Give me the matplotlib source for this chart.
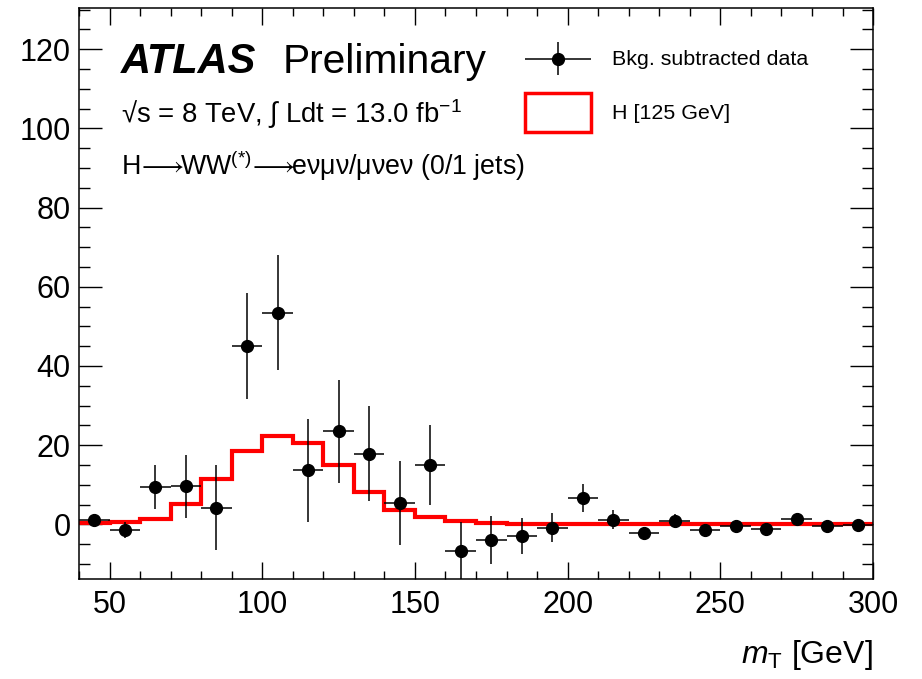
import numpy as np
import matplotlib
matplotlib.use('Agg')
import matplotlib.pyplot as plt
import matplotlib.patches as mpatches
from matplotlib.ticker import MultipleLocator
from matplotlib.legend_handler import HandlerErrorbar

plt.rcParams['font.family'] = ['Liberation Sans', 'DejaVu Sans']
plt.rcParams['mathtext.fontset'] = 'custom'
plt.rcParams['mathtext.rm'] = 'Liberation Sans'
plt.rcParams['mathtext.it'] = 'Liberation Sans:italic'
plt.rcParams['mathtext.bf'] = 'Liberation Sans:bold'
plt.rcParams['mathtext.fallback'] = 'stixsans'

# bins of m_T, 10 GeV wide
edges = np.arange(40, 301, 10)
centers = 0.5 * (edges[:-1] + edges[1:])

# background subtracted data and errors
data = [1.2, -1.5, 9.4, 9.6, 4.2, 45.1, 53.5, 13.6, 23.5, 17.8, 5.4, 15.0, -6.7,
        -4.0, -3.0, -0.8, 6.6, 1.2, -2.1, 0.8, -1.5, -0.4, -1.3, 1.4, -0.5, -0.2]
data_err = [1.5, 2.0, 5.5, 8.0, 10.8, 13.4, 14.6, 13.0, 13.0, 12.0, 10.6, 10.0, 7.3,
            6.1, 4.6, 3.7, 3.6, 2.5, 1.0, 1.7, 1.0, 0.8, 0.8, 1.0, 0.6, 0.6]

# expected signal H [125 GeV]
signal = [0.3, 0.5, 1.4, 5.2, 11.5, 18.4, 22.3, 20.6, 14.9, 8.2, 3.7, 1.9, 0.8,
          0.3, 0.2, 0.15, 0.1, 0.1, 0.1, 0.1, 0.1, 0.1, 0.1, 0.1, 0.1, 0.1]


class HandlerErrorbarMid(HandlerErrorbar):
    # put the marker in the middle of the handle box, like ROOT does
    def create_artists(self, legend, orig_handle, xdescent, ydescent, width,
                       height, fontsize, trans):
        return super().create_artists(legend, orig_handle, xdescent, ydescent,
                                      width, height - ydescent, fontsize, trans)


def main():
    fig = plt.figure(figsize=(9.22, 6.79), dpi=100)
    ax = fig.add_axes([0.0857, 0.1473, 0.8612, 0.8409])

    ax.stairs(signal, edges, baseline=None, color='red', lw=3.0, zorder=2)
    eb = ax.errorbar(centers, data, yerr=data_err, xerr=5, fmt='o', color='black',
                     ms=8.5, elinewidth=1.1, capsize=0, zorder=3)

    ax.set_xlim(40, 300)
    ax.set_ylim(-13.8, 130.4)
    ax.xaxis.set_major_locator(MultipleLocator(50))
    ax.xaxis.set_minor_locator(MultipleLocator(10))
    ax.yaxis.set_major_locator(MultipleLocator(20))
    ax.yaxis.set_minor_locator(MultipleLocator(5))
    ax.tick_params(which='both', direction='in', top=True, right=True, width=1.0,
                   labelsize=22)
    ax.tick_params(axis='x', which='major', length=12, pad=8)
    ax.tick_params(axis='x', which='minor', length=6)
    ax.tick_params(axis='y', which='major', length=16.5, pad=6)
    ax.tick_params(axis='y', which='minor', length=8)
    for s in ax.spines.values():
        s.set_linewidth(1.1)

    ax.set_xlabel(r'$m_{\mathrm{T}}$ [GeV]', fontsize=23, loc='right')
    ax.xaxis.set_label_coords(1.0, -0.103)

    ax.text(0.0525, 0.8867, 'ATLAS', transform=ax.transAxes, fontsize=30,
            fontweight='bold', fontstyle='italic', va='baseline')
    ax.text(0.2566, 0.8867, 'Preliminary', transform=ax.transAxes, fontsize=29.3,
            va='baseline')
    ax.text(0.0525, 0.7981, r'√s = 8 TeV, ∫ Ldt = 13.0 fb$^{-1}$',
            transform=ax.transAxes, fontsize=19.8, va='baseline')
    ax.text(0.0525, 0.7075,
            r'H$\!\longrightarrow\!\!$WW$^{(*)}\!\longrightarrow\!\!$eνμν/μνeν (0/1 jets)',
            transform=ax.transAxes, fontsize=19.3, va='baseline')

    box = mpatches.Patch(facecolor='none', edgecolor='red', linewidth=2.5)
    ax.legend([eb, box], ['Bkg. subtracted data', 'H [125 GeV]'],
              loc='upper left', bbox_to_anchor=(0.5617, 0.9457), frameon=False,
              fontsize=15.4, handlelength=3.1, handleheight=2.43, labelspacing=0.7,
              handletextpad=0.95, borderpad=0, borderaxespad=0, numpoints=1,
              handler_map={eb: HandlerErrorbarMid(xerr_size=1.54, yerr_size=0.77)})

    fig.savefig('out.png', dpi=100)


if __name__ == '__main__':
    main()
